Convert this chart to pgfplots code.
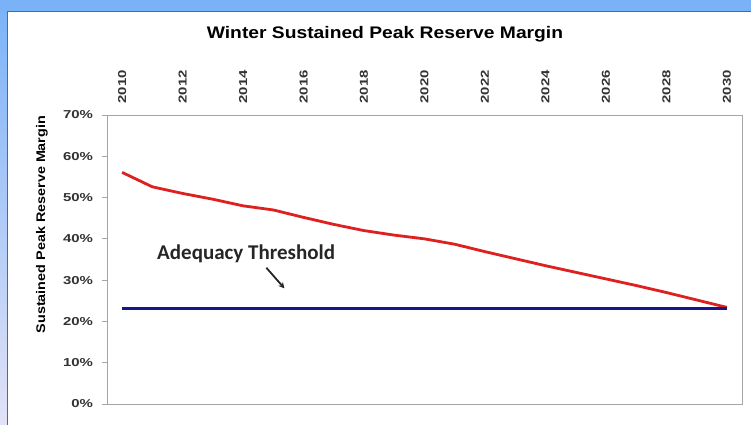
\documentclass[border=0pt]{standalone}
\usepackage{pgfplots}
\pgfplotsset{compat=1.18}
\usetikzlibrary{arrows.meta}
\usepackage{fontspec}
\setmainfont{Liberation Sans}
\newfontfamily\tickfont{Liberation Sans}[FakeStretch=1.3]
\newfontfamily\titlefont{Liberation Sans}[FakeStretch=1.15]
\newfontfamily\calfont{Carlito}
\definecolor{redline}{RGB}{222,32,32}
\definecolor{blueline}{RGB}{22,22,140}
\definecolor{framegray}{RGB}{165,165,165}
\definecolor{bgtop}{RGB}{122,178,248}
\definecolor{bgbot}{RGB}{226,226,246}
\begin{document}
\begin{tikzpicture}
\useasboundingbox (0,0) rectangle (751bp,425bp);
\shade[top color=bgtop, bottom color=bgbot] (0,0) rectangle (751bp,425bp);
\fill[bgtop] (0,414bp) rectangle (751bp,425bp);
\filldraw[fill=white, draw=gray!80!black, line width=0.8bp] (7bp,-2bp) rectangle (753bp,414bp);
\node[anchor=base] at (385bp,386bp) {\titlefont\bfseries\fontsize{16.75bp}{19bp}\selectfont Winter Sustained Peak Reserve Margin};
\node[rotate=90, anchor=base] at (45bp,200.5bp) {\titlefont\bfseries\fontsize{12.5bp}{15bp}\selectfont Sustained Peak Reserve Margin};
\begin{axis}[
  at={(107bp,21bp)}, anchor=south west,
  scale only axis, width=635bp, height=289bp,
  xmin=2009.5, xmax=2030.5, ymin=0, ymax=70,
  xtick={2010,2012,...,2030},
  ytick={0,10,...,70},
  xticklabel pos=right,
  xticklabel style={rotate=90, anchor=west},
  xticklabel shift=8bp,
  xtick style={draw=none},
  ytick align=outside,
  ytick pos=left,
  major tick length=5bp,
  ytick style={draw=framegray, line width=0.8bp},
  yticklabel={\pgfmathprintnumber{\tick}\%},
  yticklabel shift=5.5bp,
  /pgf/number format/1000 sep={},
  /pgf/number format/assume math mode=true,
  tick label style={font=\tickfont\bfseries\fontsize{11.5bp}{13bp}\selectfont, text=black!80},
  axis line style={draw=framegray, line width=0.9bp},
  clip=false,
]
\addplot[redline, line width=2.8bp, line join=round] coordinates {
(2010,56.1) (2011,52.6) (2012,51.0) (2013,49.6) (2014,48.0) (2015,47.0)
(2016,45.2) (2017,43.5) (2018,42.0) (2019,40.9) (2020,40.0) (2021,38.7)
(2022,36.9) (2023,35.2) (2024,33.5) (2025,31.9) (2026,30.3) (2027,28.7)
(2028,27.0) (2029,25.2) (2030,23.4)
};
\addplot[blueline, line width=3.4bp] coordinates {(2010,23.2) (2030,23.2)};
\node[anchor=base, font=\calfont\bfseries\fontsize{21bp}{24bp}\selectfont, text=black!85] at (axis cs:2014.1,34.9) {Adequacy Threshold};
\draw[-{Stealth[length=6bp,width=6bp]}, line width=1.8bp, black!85] (axis cs:2014.77,33.0) -- (axis cs:2015.37,28.0);
\end{axis}
\end{tikzpicture}
\end{document}
